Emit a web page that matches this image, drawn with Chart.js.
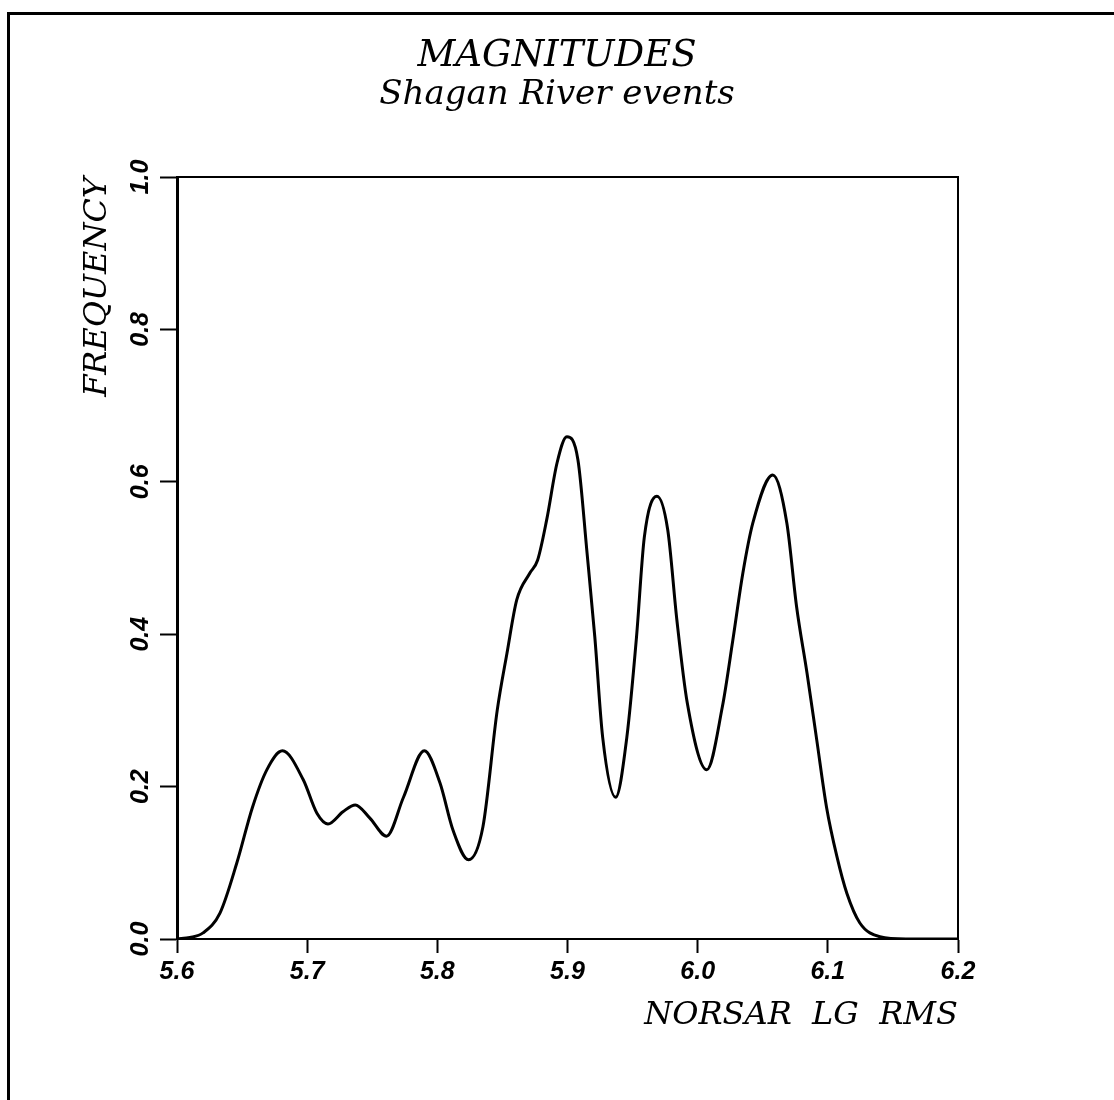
<!DOCTYPE html>
<html>
<head>
<meta charset="utf-8">
<title>Magnitudes - Shagan River events</title>
<script src="https://cdn.jsdelivr.net/npm/chart.js@4.4.1/dist/chart.umd.min.js"></script>
<style>
    html, body { margin: 0; padding: 0; background: #fff; overflow: hidden; }
    #wrap { position: relative; width: 1114px; height: 1100px; }
    #frame {
        position: absolute; left: 7px; top: 12px; width: 1200px; height: 1200px;
        border-top: 3px solid #000; border-left: 3px solid #000; pointer-events: none;
    }
</style>
</head>
<body>
<div id="wrap">
    <canvas id="myChart" width="1114" height="1100"></canvas>
    <div id="frame"></div>
</div>
<script>
// Values (NORSAR LG RMS vs frequency)
const magnitude = [
    5.600, 5.610, 5.620, 5.633, 5.646, 5.658, 5.669, 5.681, 5.697, 5.7075,
    5.716, 5.7275, 5.737, 5.748, 5.761, 5.774, 5.790, 5.802, 5.812, 5.824,
    5.835, 5.846, 5.8535, 5.861, 5.871, 5.877, 5.884, 5.892, 5.8995, 5.908,
    5.915, 5.921, 5.927, 5.937, 5.9456, 5.953, 5.959, 5.9687, 5.977, 5.984,
    5.992, 6.007, 6.019, 6.027, 6.0347, 6.0424, 6.0577, 6.0685, 6.076, 6.084,
    6.0915, 6.099, 6.107, 6.1146, 6.1246, 6.140, 6.160, 6.200
];
const frequency = [
    0.000, 0.002, 0.008, 0.034, 0.100, 0.173, 0.222, 0.247, 0.209, 0.165,
    0.151, 0.167, 0.176, 0.159, 0.135, 0.186, 0.247, 0.205, 0.143, 0.104,
    0.147, 0.300, 0.375, 0.445, 0.480, 0.497, 0.550, 0.625, 0.659, 0.629,
    0.507, 0.396, 0.265, 0.186, 0.265, 0.396, 0.527, 0.581, 0.537, 0.419,
    0.310, 0.222, 0.305, 0.392, 0.480, 0.546, 0.609, 0.546, 0.436, 0.349,
    0.261, 0.173, 0.108, 0.060, 0.021, 0.003, 0.000, 0.000
];
const xTickValues = [5.6, 5.7, 5.8, 5.9, 6.0, 6.1, 6.2];
const yTickValues = [0.0, 0.2, 0.4, 0.6, 0.8, 1.0];

const tickFont = { family: 'Liberation Sans', style: 'italic', weight: 'bold', size: 25 };
const serifFont = size => ({ family: 'DejaVu Serif', style: 'italic', weight: 'normal', size: size, lineHeight: 1.0 });

// Closes the plot box on the top and right sides
const boxPlugin = {
    id: 'plotBox',
    afterDraw(chart) {
        const { ctx, chartArea } = chart;
        ctx.save();
        ctx.strokeStyle = '#000';
        ctx.lineWidth = 2;
        ctx.beginPath();
        ctx.moveTo(chartArea.left, chartArea.top);
        ctx.lineTo(chartArea.right, chartArea.top);
        ctx.lineTo(chartArea.right, chartArea.bottom);
        ctx.stroke();
        ctx.restore();
    }
};

function init() {
    const ctx = document.getElementById('myChart').getContext('2d');
    const points = magnitude.map((m, i) => ({ x: m, y: frequency[i] }));

    new Chart(ctx, {
        type: 'line',
        data: {
            datasets: [{
                data: points,
                borderColor: '#000',
                borderWidth: 3,
                pointRadius: 0,
                fill: false,
                cubicInterpolationMode: 'monotone'
            }]
        },
        options: {
            responsive: false,
            animation: false,
            layout: { padding: { left: 0, right: 0, top: 0, bottom: 61 }, autoPadding: false },
            plugins: {
                legend: { display: false },
                tooltip: { enabled: false },
                title: {
                    display: true,
                    text: 'MAGNITUDES',
                    color: '#000',
                    font: serifFont(37),
                    padding: { top: 38, bottom: 0 }
                },
                subtitle: {
                    display: true,
                    text: 'Shagan River events',
                    color: '#000',
                    font: serifFont(34),
                    padding: { top: 3, bottom: 65 }
                }
            },
            scales: {
                x: {
                    type: 'linear',
                    min: 5.6,
                    max: 6.2,
                    afterBuildTicks: scale => { scale.ticks = xTickValues.map(v => ({ value: v })); },
                    afterFit: scale => { scale.height = 100; },
                    border: { color: '#000', width: 2 },
                    grid: { drawOnChartArea: false, drawTicks: true, tickLength: 14, tickWidth: 2, tickColor: '#000' },
                    ticks: {
                        color: '#000',
                        font: tickFont,
                        padding: 4,
                        autoSkip: false,
                        maxRotation: 0,
                        callback: v => Number(v).toFixed(1)
                    },
                    title: {
                        display: true,
                        text: 'NORSAR  LG  RMS',
                        align: 'end',
                        color: '#000',
                        font: { family: 'DejaVu Serif', style: 'italic', weight: 'normal', size: 32, lineHeight: 1.2 },
                        padding: { top: 0, bottom: 4 }
                    }
                },
                y: {
                    type: 'linear',
                    min: 0,
                    max: 1,
                    afterBuildTicks: scale => { scale.ticks = yTickValues.map(v => ({ value: v })); },
                    afterFit: scale => { scale.width = 177; },
                    border: { color: '#000', width: 3 },
                    grid: { drawOnChartArea: false, drawTicks: true, tickLength: 17, tickWidth: 2, tickColor: '#000' },
                    ticks: {
                        color: '#000',
                        font: tickFont,
                        padding: 2,
                        minRotation: 90,
                        maxRotation: 90,
                        crossAlign: 'center',
                        callback: v => Number(v).toFixed(1)
                    },
                    title: {
                        display: true,
                        text: 'FREQUENCY',
                        align: 'end',
                        color: '#000',
                        font: { family: 'DejaVu Serif', style: 'italic', weight: 'normal', size: 32, lineHeight: 1.2 },
                        padding: { top: 78, bottom: 0 }
                    }
                },
                // empty right-hand margin so the titles stay centred on the page
                margin: {
                    type: 'linear',
                    position: 'right',
                    display: true,
                    afterFit: scale => { scale.width = 156; },
                    border: { display: false },
                    grid: { display: false },
                    ticks: { display: false }
                }
            }
        },
        plugins: [boxPlugin]
    });
}

document.addEventListener('DOMContentLoaded', init);
</script>
</body>
</html>
